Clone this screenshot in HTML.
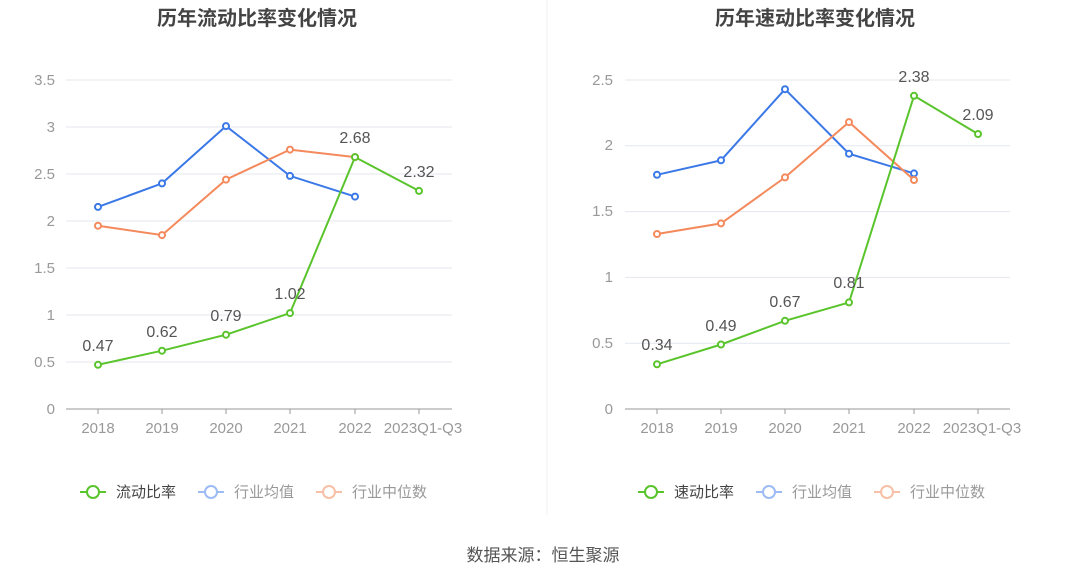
<!DOCTYPE html>
<html><head><meta charset="utf-8"><style>
body{margin:0;background:#fff;}
svg{display:block;font-family:"Liberation Sans","Noto Sans CJK SC",sans-serif;}
</style></head><body>
<svg width="1086" height="582" viewBox="0 0 1086 582">
<line x1="547" y1="0" x2="547" y2="515" stroke="#eef0f5"/>
<text x="257" y="25" text-anchor="middle" font-size="20" font-weight="bold" fill="#444">历年流动比率变化情况</text>
<text x="815" y="25" text-anchor="middle" font-size="20" font-weight="bold" fill="#444">历年速动比率变化情况</text>
<g stroke="#e4e7ef">
<line x1="66" x2="452" y1="362" y2="362"/><line x1="66" x2="452" y1="315" y2="315"/><line x1="66" x2="452" y1="268" y2="268"/><line x1="66" x2="452" y1="221" y2="221"/><line x1="66" x2="452" y1="174" y2="174"/><line x1="66" x2="452" y1="127" y2="127"/><line x1="66" x2="452" y1="80" y2="80"/>
<line x1="625" x2="1010" y1="343.2" y2="343.2"/><line x1="625" x2="1010" y1="277.4" y2="277.4"/><line x1="625" x2="1010" y1="211.6" y2="211.6"/><line x1="625" x2="1010" y1="145.8" y2="145.8"/><line x1="625" x2="1010" y1="80" y2="80"/>
</g>
<g stroke="#999"><line x1="66" x2="452" y1="409" y2="409"/><line x1="625" x2="1010" y1="409" y2="409"/>
<line x1="98" x2="98" y1="409" y2="414"/><line x1="162" x2="162" y1="409" y2="414"/><line x1="226" x2="226" y1="409" y2="414"/><line x1="290" x2="290" y1="409" y2="414"/><line x1="355" x2="355" y1="409" y2="414"/><line x1="419" x2="419" y1="409" y2="414"/>
<line x1="657" x2="657" y1="409" y2="414"/><line x1="721" x2="721" y1="409" y2="414"/><line x1="785" x2="785" y1="409" y2="414"/><line x1="849" x2="849" y1="409" y2="414"/><line x1="914" x2="914" y1="409" y2="414"/><line x1="978" x2="978" y1="409" y2="414"/>
</g>
<g font-size="15" fill="#999" text-anchor="end">
<text x="55" y="414">0</text><text x="55" y="367">0.5</text><text x="55" y="320">1</text><text x="55" y="273">1.5</text><text x="55" y="226">2</text><text x="55" y="179">2.5</text><text x="55" y="132">3</text><text x="55" y="85">3.5</text>
<text x="613" y="414">0</text><text x="613" y="348">0.5</text><text x="613" y="282">1</text><text x="613" y="216">1.5</text><text x="613" y="150">2</text><text x="613" y="85">2.5</text>
</g>
<g font-size="15" fill="#999" text-anchor="middle">
<text x="98" y="433">2018</text><text x="162" y="433">2019</text><text x="226" y="433">2020</text><text x="290" y="433">2021</text><text x="355" y="433">2022</text><text x="423" y="433">2023Q1-Q3</text>
<text x="657" y="433">2018</text><text x="721" y="433">2019</text><text x="785" y="433">2020</text><text x="849" y="433">2021</text><text x="914" y="433">2022</text><text x="982" y="433">2023Q1-Q3</text>
</g>
<g fill="none" stroke-width="2">
<polyline stroke="#3b78e7" points="98,206.9 162,183.4 226,126.1 290,175.9 355,196.6"/>
<polyline stroke="#f4895c" points="98,225.7 162,235.1 226,179.6 290,149.6 355,157.1"/>
<polyline stroke="#5ac42c" points="98,364.8 162,350.7 226,334.7 290,313.1 355,157.1 419,190.9"/>
<polyline stroke="#3b78e7" points="657,174.8 721,160.3 785,89.2 849,153.7 914,173.4"/>
<polyline stroke="#f4895c" points="657,234 721,223.4 785,177.4 849,122.1 914,180"/>
<polyline stroke="#5ac42c" points="657,364.3 721,344.5 785,320.8 849,302.4 914,95.8 978,134"/>
</g>
<g fill="#fff" stroke-width="2">
<g stroke="#3b78e7"><circle cx="98" cy="206.9" r="3"/><circle cx="162" cy="183.4" r="3"/><circle cx="226" cy="126.1" r="3"/><circle cx="290" cy="175.9" r="3"/><circle cx="355" cy="196.6" r="3"/>
<circle cx="657" cy="174.8" r="3"/><circle cx="721" cy="160.3" r="3"/><circle cx="785" cy="89.2" r="3"/><circle cx="849" cy="153.7" r="3"/><circle cx="914" cy="173.4" r="3"/></g>
<g stroke="#f4895c"><circle cx="98" cy="225.7" r="3"/><circle cx="162" cy="235.1" r="3"/><circle cx="226" cy="179.6" r="3"/><circle cx="290" cy="149.6" r="3"/><circle cx="355" cy="157.1" r="3"/>
<circle cx="657" cy="234" r="3"/><circle cx="721" cy="223.4" r="3"/><circle cx="785" cy="177.4" r="3"/><circle cx="849" cy="122.1" r="3"/><circle cx="914" cy="180" r="3"/></g>
<g stroke="#5ac42c"><circle cx="98" cy="364.8" r="3"/><circle cx="162" cy="350.7" r="3"/><circle cx="226" cy="334.7" r="3"/><circle cx="290" cy="313.1" r="3"/><circle cx="355" cy="157.1" r="3"/><circle cx="419" cy="190.9" r="3"/>
<circle cx="657" cy="364.3" r="3"/><circle cx="721" cy="344.5" r="3"/><circle cx="785" cy="320.8" r="3"/><circle cx="849" cy="302.4" r="3"/><circle cx="914" cy="95.8" r="3"/><circle cx="978" cy="134" r="3"/></g>
</g>
<g font-size="16" fill="#555" text-anchor="middle">
<text x="98" y="351">0.47</text><text x="162" y="337">0.62</text><text x="226" y="321">0.79</text><text x="290" y="299">1.02</text><text x="355" y="143">2.68</text><text x="419" y="177">2.32</text>
<text x="657" y="350">0.34</text><text x="721" y="331">0.49</text><text x="785" y="307">0.67</text><text x="849" y="288">0.81</text><text x="914" y="82">2.38</text><text x="978" y="120">2.09</text>
</g>
<g font-size="15" fill="#666">
<line x1="80" x2="106" y1="492" y2="492" stroke="#5ac42c" stroke-width="2"/><circle cx="93" cy="492" r="6" fill="#fff" stroke="#5ac42c" stroke-width="2"/><text x="116" y="497" fill="#444">流动比率</text>
<line x1="198" x2="224" y1="492" y2="492" stroke="#9cbcf3" stroke-width="2"/><circle cx="211" cy="492" r="6" fill="#fff" stroke="#9cbcf3" stroke-width="2"/><text x="234" y="497" fill="#999">行业均值</text>
<line x1="316" x2="342" y1="492" y2="492" stroke="#f8c0a6" stroke-width="2"/><circle cx="329" cy="492" r="6" fill="#fff" stroke="#f8c0a6" stroke-width="2"/><text x="352" y="497" fill="#999">行业中位数</text>
<line x1="638" x2="664" y1="492" y2="492" stroke="#5ac42c" stroke-width="2"/><circle cx="651" cy="492" r="6" fill="#fff" stroke="#5ac42c" stroke-width="2"/><text x="674" y="497" fill="#444">速动比率</text>
<line x1="756" x2="782" y1="492" y2="492" stroke="#9cbcf3" stroke-width="2"/><circle cx="769" cy="492" r="6" fill="#fff" stroke="#9cbcf3" stroke-width="2"/><text x="792" y="497" fill="#999">行业均值</text>
<line x1="874" x2="900" y1="492" y2="492" stroke="#f8c0a6" stroke-width="2"/><circle cx="887" cy="492" r="6" fill="#fff" stroke="#f8c0a6" stroke-width="2"/><text x="910" y="497" fill="#999">行业中位数</text>
</g>
<text x="543" y="561" text-anchor="middle" font-size="17" fill="#555">数据来源：恒生聚源</text>
</svg>
</body></html>
